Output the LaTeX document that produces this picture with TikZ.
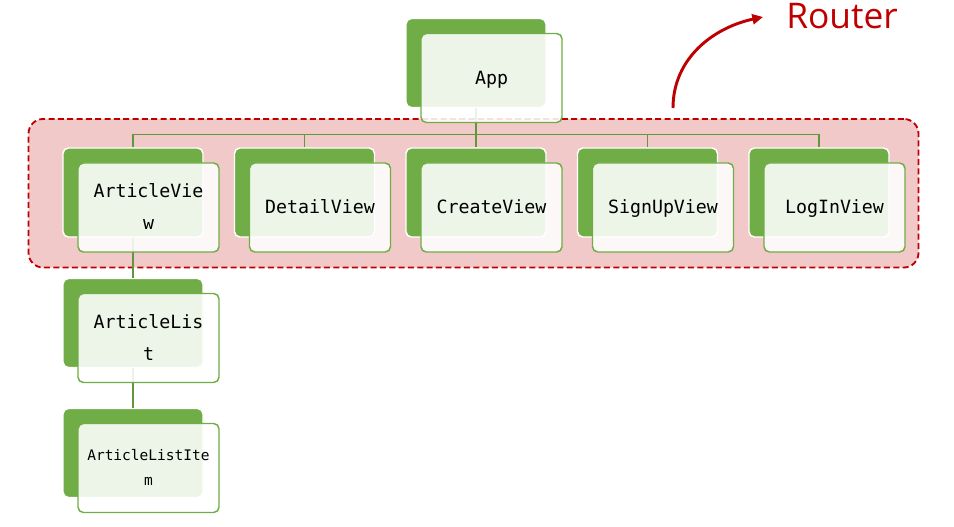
\documentclass[tikz,border=0pt]{standalone}
\usepackage{fontspec}
\setmonofont{DejaVu Sans Mono}
\newfontfamily\routerfont{Open Sans}
\usetikzlibrary{arrows.meta}
\definecolor{cgreen}{RGB}{112,173,71}
\definecolor{cline}{RGB}{98,150,62}
\definecolor{cred}{RGB}{192,0,0}
\definecolor{cpink}{RGB}{242,201,201}
\begin{document}
\begin{tikzpicture}[x=0.75pt,y=-0.75pt,
  backbox/.style={draw=white, line width=1.1pt, fill=cgreen, rounded corners=4pt,
    minimum width=105pt, minimum height=66.75pt, inner sep=0pt},
  frontbox/.style={draw=cgreen, line width=1.1pt, fill=white, fill opacity=0.88,
    text opacity=1, rounded corners=4pt, minimum width=105.75pt,
    minimum height=66.75pt, inner sep=0pt, align=center,
    font=\ttfamily\fontsize{13.7}{24}\selectfont},
  smalltext/.style={font=\ttfamily\fontsize{10.9}{18.75}\selectfont},
  conn/.style={draw=cline, line width=1.1pt},
  routerbox/.style={draw=cred, fill=cpink, line width=1.4pt,
    dash pattern=on 4.5pt off 2.5pt, rounded corners=11pt,
    minimum width=667.5pt, minimum height=111.4pt, inner sep=0pt},
  routerarrow/.style={draw=cred, line width=2.2pt,
    -{Triangle[length=8pt,width=7.5pt]}},
  routerlabel/.style={text=cred, inner sep=0pt,
    font=\routerfont\fontsize{26.5}{30}\selectfont}
]
\useasboundingbox (0,0) rectangle (954,527);

% router group
\node[routerbox] (router) at (473.5,193.25) {};

% back boxes
\node[backbox] (appb) at (476,63) {};
\node[backbox] (avb) at (133,192.5) {};
\node[backbox] (dvb) at (304.5,192.5) {};
\node[backbox] (cvb) at (476,192.5) {};
\node[backbox] (svb) at (647.5,192.5) {};
\node[backbox] (lvb) at (819,192.5) {};
\node[backbox] (alb) at (133,323) {};
\node[backbox] (alib) at (133,453) {};

% connectors
\coordinate (bus) at (0,134.5);
\foreach \n in {avb,dvb,cvb,svb,lvb}{
  \draw[conn] (appb.south) -- (appb.south |- bus) -| (\n.north);
}
\draw[conn] (avb.south) -- (alb.north);
\draw[conn] (alb.south) -- (alib.north);

% front boxes
\node[frontbox] (app) at (491.5,78) {\strut App};
\node[frontbox] (av) at (148.5,207.5) {\strut ArticleVie\\\strut w};
\node[frontbox] (dv) at (320,207.5) {\strut DetailView};
\node[frontbox] (cv) at (491.5,207.5) {\strut CreateView};
\node[frontbox] (sv) at (663,207.5) {\strut SignUpView};
\node[frontbox] (lv) at (834.5,207.5) {\strut LogInView};
\node[frontbox] (al) at (148.5,338) {\strut ArticleLis\\\strut t};
\node[frontbox, smalltext] (ali) at (148.5,468) {\strut ArticleListIte\\\strut m};

% router label and arrow
\coordinate (rs) at (673,108);
\coordinate (re) at (763,17);
\draw[routerarrow] (rs) to[out=90,in=192] (re);
\node[routerlabel, anchor=base west] (rt) at (786,29) {Router};
\end{tikzpicture}
\end{document}
